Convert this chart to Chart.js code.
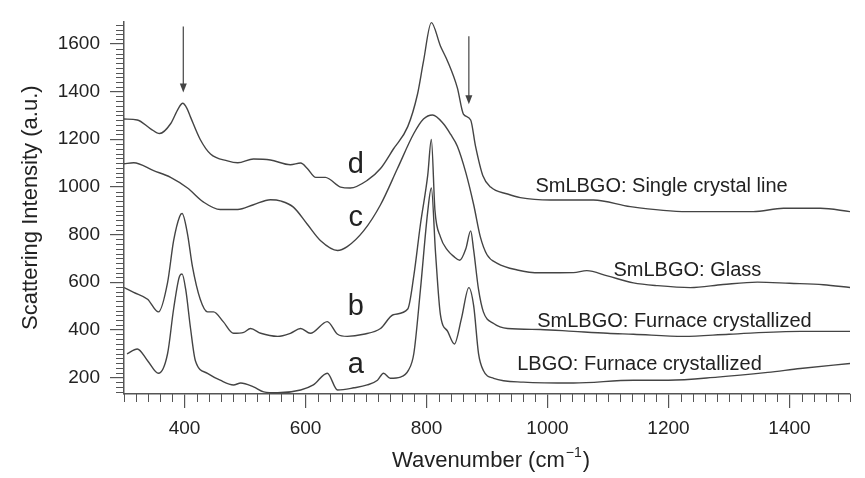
<!DOCTYPE html>
<html>
<head>
<meta charset="utf-8">
<title>Scattering spectra</title>
<script src="https://cdn.jsdelivr.net/npm/chart.js@4.4.0/dist/chart.umd.min.js"></script>
<style>
  html, body { margin: 0; padding: 0; background: #fff; }
  #wrap { position: relative; width: 865px; height: 478px; }
</style>
</head>
<body>
<div id="wrap"><canvas id="chart"></canvas></div>
<script>
// values: wavenumber (cm-1) and intensity (a.u.)
const waveA = [305, 322, 339, 357, 372, 382, 392, 396, 402, 410, 418, 438, 459, 481, 493, 514, 531, 554, 592, 613, 636, 653, 680, 702, 719, 729, 740, 757, 770, 779, 790, 802, 808, 815, 823, 835, 846, 858, 870, 878, 886, 894, 911, 960, 1043, 1142, 1200, 1281, 1364, 1418, 1500];
const intA  = [299, 319, 270, 217, 299, 487, 626, 634, 569, 405, 270, 217, 188, 168, 176, 160, 139, 135, 147, 168, 217, 147, 156, 168, 188, 217, 196, 201, 229, 299, 569, 896, 995, 720, 463, 393, 340, 450, 577, 500, 300, 229, 196, 180, 176, 188, 188, 201, 221, 237, 258];

const waveB = [300, 316, 339, 357, 372, 382, 392, 396, 405, 413, 426, 438, 448, 464, 481, 498, 509, 526, 554, 575, 592, 608, 636, 653, 669, 696, 724, 745, 769, 779, 790, 802, 808, 814, 823, 835, 845, 855, 865, 873, 878, 886, 894, 911, 934, 988, 1043, 1099, 1142, 1225, 1300, 1418, 1500];
const intB  = [577, 557, 528, 475, 598, 774, 876, 888, 802, 667, 528, 475, 475, 434, 385, 389, 405, 385, 372, 385, 405, 385, 434, 381, 372, 381, 405, 463, 487, 626, 843, 1048, 1199, 900, 790, 733, 708, 692, 740, 815, 733, 569, 475, 426, 405, 401, 393, 385, 381, 372, 381, 393, 393];

const waveC = [300, 316, 349, 377, 405, 431, 459, 488, 514, 542, 560, 580, 603, 625, 653, 669, 696, 724, 752, 779, 795, 810, 828, 840, 851, 865, 878, 889, 900, 917, 950, 988, 1043, 1065, 1099, 1142, 1182, 1236, 1290, 1347, 1400, 1456, 1500];
const intC  = [1097, 1101, 1068, 1040, 995, 937, 905, 905, 925, 946, 940, 915, 843, 774, 733, 749, 815, 925, 1077, 1224, 1285, 1302, 1265, 1220, 1171, 1060, 925, 790, 715, 679, 651, 639, 640, 648, 626, 597, 585, 577, 590, 600, 595, 589, 577];

const waveD = [300, 322, 344, 359, 377, 390, 397, 404, 410, 426, 443, 471, 488, 514, 542, 575, 592, 603, 617, 633, 640, 658, 674, 702, 724, 745, 769, 785, 795, 808, 823, 835, 851, 861, 873, 881, 893, 906, 934, 955, 1005, 1076, 1137, 1231, 1340, 1390, 1451, 1500];
const intD  = [1285, 1281, 1244, 1224, 1265, 1330, 1351, 1330, 1293, 1199, 1138, 1109, 1101, 1117, 1113, 1093, 1100, 1077, 1040, 1040, 1032, 999, 995, 1027, 1077, 1158, 1253, 1388, 1527, 1690, 1592, 1527, 1416, 1306, 1281, 1171, 1048, 999, 970, 955, 945, 945, 917, 896, 896, 910, 910, 896];

const xTicks = [400, 600, 800, 1000, 1200, 1400];
const yTicks = [200, 400, 600, 800, 1000, 1200, 1400, 1600];

// curve letters and sample names, anchored in data units
const letters = ['a', 'b', 'c', 'd'];
const letterWave = [683, 683, 683, 683];
const letterInt = [217, 463, 835, 1060];
const names = ['LBGO: Furnace crystallized', 'SmLBGO: Furnace crystallized', 'SmLBGO: Glass', 'SmLBGO: Single crystal line'];
const nameWave = [950, 983, 1109, 980];
const nameInt = [229, 413, 626, 978];

// the two arrows: wavenumber, top end, tip
const arrowWave = [398, 870];
const arrowTop = [1674, 1633];
const arrowTip = [1396, 1347];

const FONT = '"Liberation Sans", Arial, Helvetica, sans-serif';
const INK = '#222';
const AXIS = '#555';
const LINE = '#444';

Chart.defaults.font.family = FONT;

const toXY = (xs, ys) => xs.map((x, i) => ({ x: x, y: ys[i] }));
const lineStyle = { borderColor: LINE, borderWidth: 1.4, pointRadius: 0, fill: false, cubicInterpolationMode: 'monotone' };

const extras = {
  id: 'extras',
  afterDraw(chart) {
    const ctx = chart.ctx;
    const xs = chart.scales.x, ys = chart.scales.y;
    const area = chart.chartArea;
    ctx.save();

    // minor ticks every 20 units
    ctx.strokeStyle = AXIS;
    ctx.lineWidth = 1;
    ctx.beginPath();
    for (let v = 300; v <= 1500; v += 20) {
      if (v % 200 === 0) continue;
      const px = Math.round(xs.getPixelForValue(v)) + 0.5;
      ctx.moveTo(px, area.bottom);
      ctx.lineTo(px, area.bottom + 8);
    }
    for (let v = 140; v <= 1690; v += 20) {
      if (v % 200 === 0) continue;
      const py = Math.round(ys.getPixelForValue(v)) + 0.5;
      ctx.moveTo(area.left, py);
      ctx.lineTo(area.left - 8, py);
    }
    ctx.stroke();

    // arrows
    ctx.strokeStyle = LINE;
    ctx.fillStyle = LINE;
    ctx.lineWidth = 1.2;
    arrowWave.forEach((w, i) => {
      const px = xs.getPixelForValue(w);
      const top = ys.getPixelForValue(arrowTop[i]);
      const tip = ys.getPixelForValue(arrowTip[i]);
      ctx.beginPath();
      ctx.moveTo(px, top);
      ctx.lineTo(px, tip - 8);
      ctx.stroke();
      ctx.beginPath();
      ctx.moveTo(px - 3.5, tip - 9);
      ctx.lineTo(px + 3.5, tip - 9);
      ctx.lineTo(px, tip);
      ctx.closePath();
      ctx.fill();
    });

    // letters
    ctx.fillStyle = INK;
    ctx.font = '29px ' + FONT;
    ctx.textAlign = 'center';
    ctx.textBaseline = 'alphabetic';
    letters.forEach((t, i) => {
      ctx.fillText(t, xs.getPixelForValue(letterWave[i]), ys.getPixelForValue(letterInt[i]));
    });

    // sample names
    ctx.font = '20px ' + FONT;
    ctx.textAlign = 'left';
    names.forEach((t, i) => {
      ctx.fillText(t, xs.getPixelForValue(nameWave[i]), ys.getPixelForValue(nameInt[i]));
    });

    // x axis title with superscript
    const main = 'Wavenumber (cm', sup = '\u22121', tail = ')';
    ctx.font = '22px ' + FONT;
    const w1 = ctx.measureText(main).width, w3 = ctx.measureText(tail).width;
    ctx.font = '14px ' + FONT;
    const w2 = ctx.measureText(sup).width;
    const cx = (area.left + area.right) / 2;
    let x0 = cx - (w1 + w2 + w3) / 2 + 3;
    const base = 467;
    ctx.font = '22px ' + FONT;
    ctx.fillText(main, x0, base);
    ctx.font = '14px ' + FONT;
    ctx.fillText(sup, x0 + w1 + 1, base - 10);
    ctx.font = '22px ' + FONT;
    ctx.fillText(tail, x0 + w1 + w2 + 2, base);

    ctx.restore();
  }
};

new Chart(document.getElementById('chart'), {
  type: 'line',
  data: {
    datasets: [
      { label: 'a', data: toXY(waveA, intA), ...lineStyle },
      { label: 'b', data: toXY(waveB, intB), ...lineStyle },
      { label: 'c', data: toXY(waveC, intC), ...lineStyle },
      { label: 'd', data: toXY(waveD, intD), ...lineStyle }
    ]
  },
  options: {
    responsive: true,
    maintainAspectRatio: false,
    animation: false,
    layout: { padding: { top: 12, right: 15, left: 0, bottom: 0 } },
    plugins: { legend: { display: false }, tooltip: { enabled: false } },
    scales: {
      x: {
        type: 'linear', min: 300, max: 1500,
        afterBuildTicks: s => { s.ticks = xTicks.map(v => ({ value: v })); },
        afterFit: s => { s.height = 84; },
        grid: { drawOnChartArea: false, drawTicks: true, tickLength: 14, color: AXIS, lineWidth: 1.2 },
        border: { display: true, color: AXIS, width: 1.5 },
        ticks: { color: INK, font: { size: 19 }, padding: 9, maxRotation: 0, callback: v => String(v) }
      },
      y: {
        type: 'linear', min: 130, max: 1695,
        afterBuildTicks: s => { s.ticks = yTicks.map(v => ({ value: v })); },
        afterFit: s => { s.width = 124; },
        grid: { drawOnChartArea: false, drawTicks: true, tickLength: 14, color: AXIS, lineWidth: 1.2 },
        border: { display: true, color: AXIS, width: 1.5 },
        ticks: { color: INK, font: { size: 19 }, padding: 10, callback: v => String(v) },
        title: { display: true, text: 'Scattering Intensity (a.u.)', color: INK, font: { size: 22 }, padding: { top: 18, bottom: 0 } }
      }
    }
  },
  plugins: [extras]
});
</script>
</body>
</html>
